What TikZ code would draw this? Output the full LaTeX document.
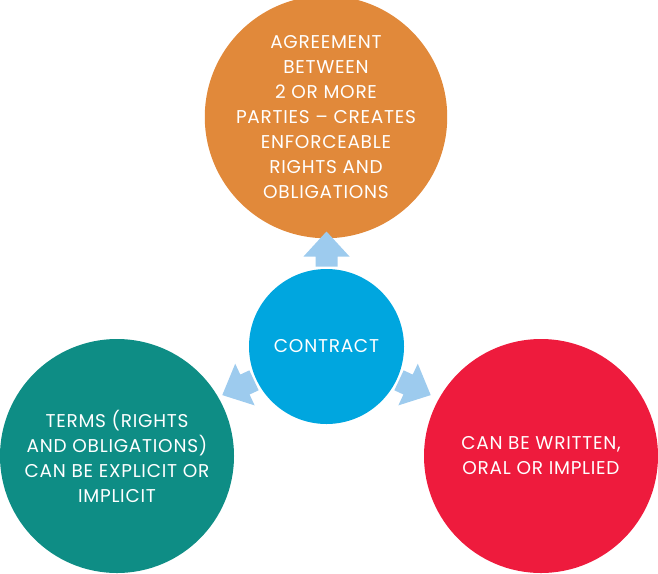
\documentclass[tikz,border=0pt]{standalone}
\usepackage{fontspec}
\setmainfont{Poppins}[LetterSpace=4]
\definecolor{corange}{HTML}{E1893A}
\definecolor{cblue}{HTML}{00A6DF}
\definecolor{cteal}{HTML}{0E8D85}
\definecolor{cred}{HTML}{EE1B3D}
\definecolor{carrow}{HTML}{9DCBEE}
\newcommand\blockarrow[2]{%
  \begin{scope}[shift={(#1.center)}, rotate=#2]
    \fill[carrow] (80,-11) -- (90,-11) -- (90,-23) -- (115,0) -- (90,23) -- (90,11) -- (80,11) -- cycle;
  \end{scope}}
\tikzset{
  bubble/.style={circle, inner sep=0pt, text=white, align=center,
    font=\fontsize{18.5}{25}\selectfont},
}
\begin{document}
\begin{tikzpicture}[x=1pt,y=1pt]
\useasboundingbox (0,0) rectangle (658,-573);
\node[bubble, fill=corange, minimum size=232] (top) at (326,-117) {AGREEMENT\\BETWEEN\\2 OR MORE\\PARTIES -- CREATES\\ENFORCEABLE\\RIGHTS AND\\OBLIGATIONS};
\node[bubble, fill=cblue, minimum size=155] (c) at (326.5,-346.5) {CONTRACT};
\node[bubble, fill=cteal, minimum size=234] (left) at (117,-456) {TERMS (RIGHTS\\AND OBLIGATIONS)\\CAN BE EXPLICIT OR\\IMPLICIT};
\node[bubble, fill=cred, minimum size=234] (right) at (541,-456) {CAN BE WRITTEN,\\ORAL OR IMPLIED};
\blockarrow{c}{90}
\blockarrow{c}{205}
\blockarrow{c}{335}
\end{tikzpicture}
\end{document}
